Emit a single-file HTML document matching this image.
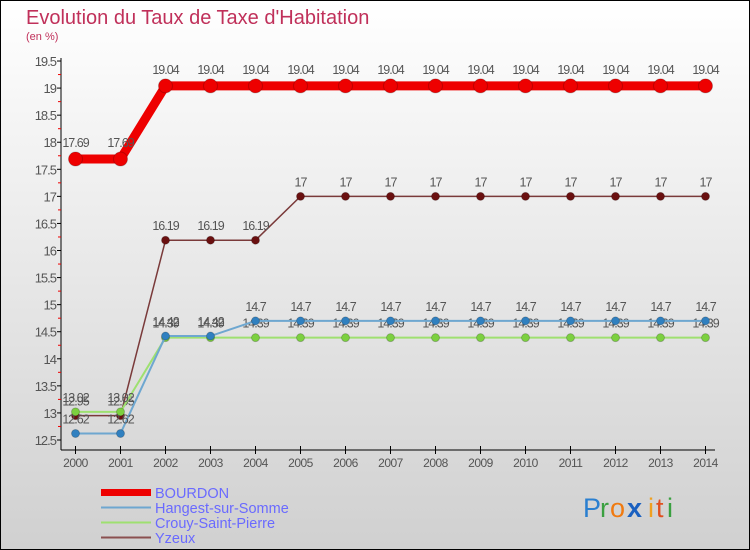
<!DOCTYPE html>
<html><head><meta charset="utf-8"><style>
body{margin:0;width:750px;height:550px;overflow:hidden;font-family:"Liberation Sans",sans-serif}
svg{display:block}
</style></head><body>
<svg width="750" height="550">
<defs><linearGradient id="bg" x1="0" y1="0" x2="0" y2="1"><stop offset="0" stop-color="#ffffff"/><stop offset="1" stop-color="#d0d0d0"/></linearGradient></defs>
<rect x="0.5" y="0.5" width="749" height="549" fill="url(#bg)" stroke="#000"/>
<text x="26" y="24" font-size="20" fill="#c0305a">Evolution du Taux de Taxe d'Habitation</text>
<text x="26" y="40" font-size="11" fill="#c0305a">(en %)</text>
<g id="axes"></g>
<g id="series"></g>
<g>
<rect x="101" y="489" width="50" height="7" fill="#e00"/>
<text x="155" y="498" font-size="14.5" fill="#6a6aff">BOURDON</text>
<line x1="101" y1="507.5" x2="151" y2="507.5" stroke="#6ea7d0" stroke-width="2"/>
<text x="155" y="513" font-size="14.5" fill="#6a6aff">Hangest-sur-Somme</text>
<line x1="101" y1="522.5" x2="151" y2="522.5" stroke="#9ee070" stroke-width="2"/>
<text x="155" y="528" font-size="14.5" fill="#6a6aff">Crouy-Saint-Pierre</text>
<line x1="101" y1="537.5" x2="151" y2="537.5" stroke="#8a5050" stroke-width="2"/>
<text x="155" y="543" font-size="14.5" fill="#6a6aff">Yzeux</text>
</g>
<g font-size="27">
<text x="583" y="517" fill="#2a7fd0">P</text><text x="600" y="517" fill="#3aa040">r</text><text x="610" y="517" fill="#f07a10">o</text><text x="627" y="517" fill="#1a60c0" font-weight="bold">x</text><text x="648" y="517" fill="#f0a020">i</text><text x="656" y="517" fill="#e05020">t</text><text x="667" y="517" fill="#3aa040">i</text>
</g>
</svg>
<script>
const years=[2000,2001,2002,2003,2004,2005,2006,2007,2008,2009,2010,2011,2012,2013,2014];
const yTicks=[12.5,13,13.5,14,14.5,15,15.5,16,16.5,17,17.5,18,18.5,19,19.5];
const bourdon=[17.69,17.69,19.04,19.04,19.04,19.04,19.04,19.04,19.04,19.04,19.04,19.04,19.04,19.04,19.04];
const hangest=[12.62,12.62,14.42,14.42,14.7,14.7,14.7,14.7,14.7,14.7,14.7,14.7,14.7,14.7,14.7];
const crouy=[13.02,13.02,14.39,14.39,14.39,14.39,14.39,14.39,14.39,14.39,14.39,14.39,14.39,14.39,14.39];
const yzeux=[12.95,12.95,16.19,16.19,16.19,17,17,17,17,17,17,17,17,17,17];
const NS="http://www.w3.org/2000/svg";
function X(i){return 75.5+i*45;}
function Y(v){return 440-(v-12.5)*54.14;}
function mk(t,a,p){const e=document.createElementNS(NS,t);for(const k in a)e.setAttribute(k,a[k]);p.appendChild(e);return e;}
const ax=document.getElementById('axes');
const yAxis=mk('line',{x1:61,y1:58,x2:61,y2:450,stroke:'#000','stroke-width':1},ax);


const xAxis=mk('line',{x1:61,y1:450,x2:715,y2:450,stroke:'#000','stroke-width':1},ax);


yTicks.forEach((v,i)=>{
 const y=Y(v);
 mk('line',{x1:57,y1:y,x2:61,y2:y,stroke:'#000'},ax);
 if(i<yTicks.length-1)mk('line',{x1:58,y1:Y(v+0.25),x2:61,y2:Y(v+0.25),stroke:'#e00'},ax);
 const t=mk('text',{x:56,y:y+5,'font-size':13,'text-anchor':'end',fill:'#555','letter-spacing':'-1'},ax);
 t.textContent=String(v);
 
 
});
years.forEach((yr,i)=>{
 mk('line',{x1:X(i),y1:446,x2:X(i),y2:454,stroke:'#000'},ax);
 const t=mk('text',{x:X(i),y:467,'font-size':12,'text-anchor':'middle',fill:'#555','letter-spacing':'-0.5'},ax);
 t.textContent=String(yr);
 
 
});
const sg=document.getElementById('series');
function draw(vals,color,lw,r,dot,name,dy){
 const g=mk('g',{},sg);
 
 
 mk('polyline',{points:vals.map((v,i)=>X(i)+','+Y(v)).join(' '),fill:'none',stroke:color,'stroke-width':lw},g);
 vals.forEach((v,i)=>{
  const c=mk('circle',{cx:X(i),cy:Y(v),r:r,fill:dot,stroke:'rgba(0,0,0,0.2)'},g);
  
  
  const t=mk('text',{x:X(i),y:Y(v)+dy,'font-size':12.5,'text-anchor':'middle',fill:'#555','letter-spacing':'-1'},g);
  t.textContent=String(v);
  
  
 });
}
draw(yzeux,'#7a3a3a',1.5,4,'#6a1010','yzeux',-10);
draw(crouy,'#9ee070',2,4,'#7cd040','crouy',-10);
draw(hangest,'#6ea7d0',2,4,'#3080c0','hangest',-10);
draw(bourdon,'#e00',9,7,'#e00','bourdon',-12);
</script>
</body></html>
